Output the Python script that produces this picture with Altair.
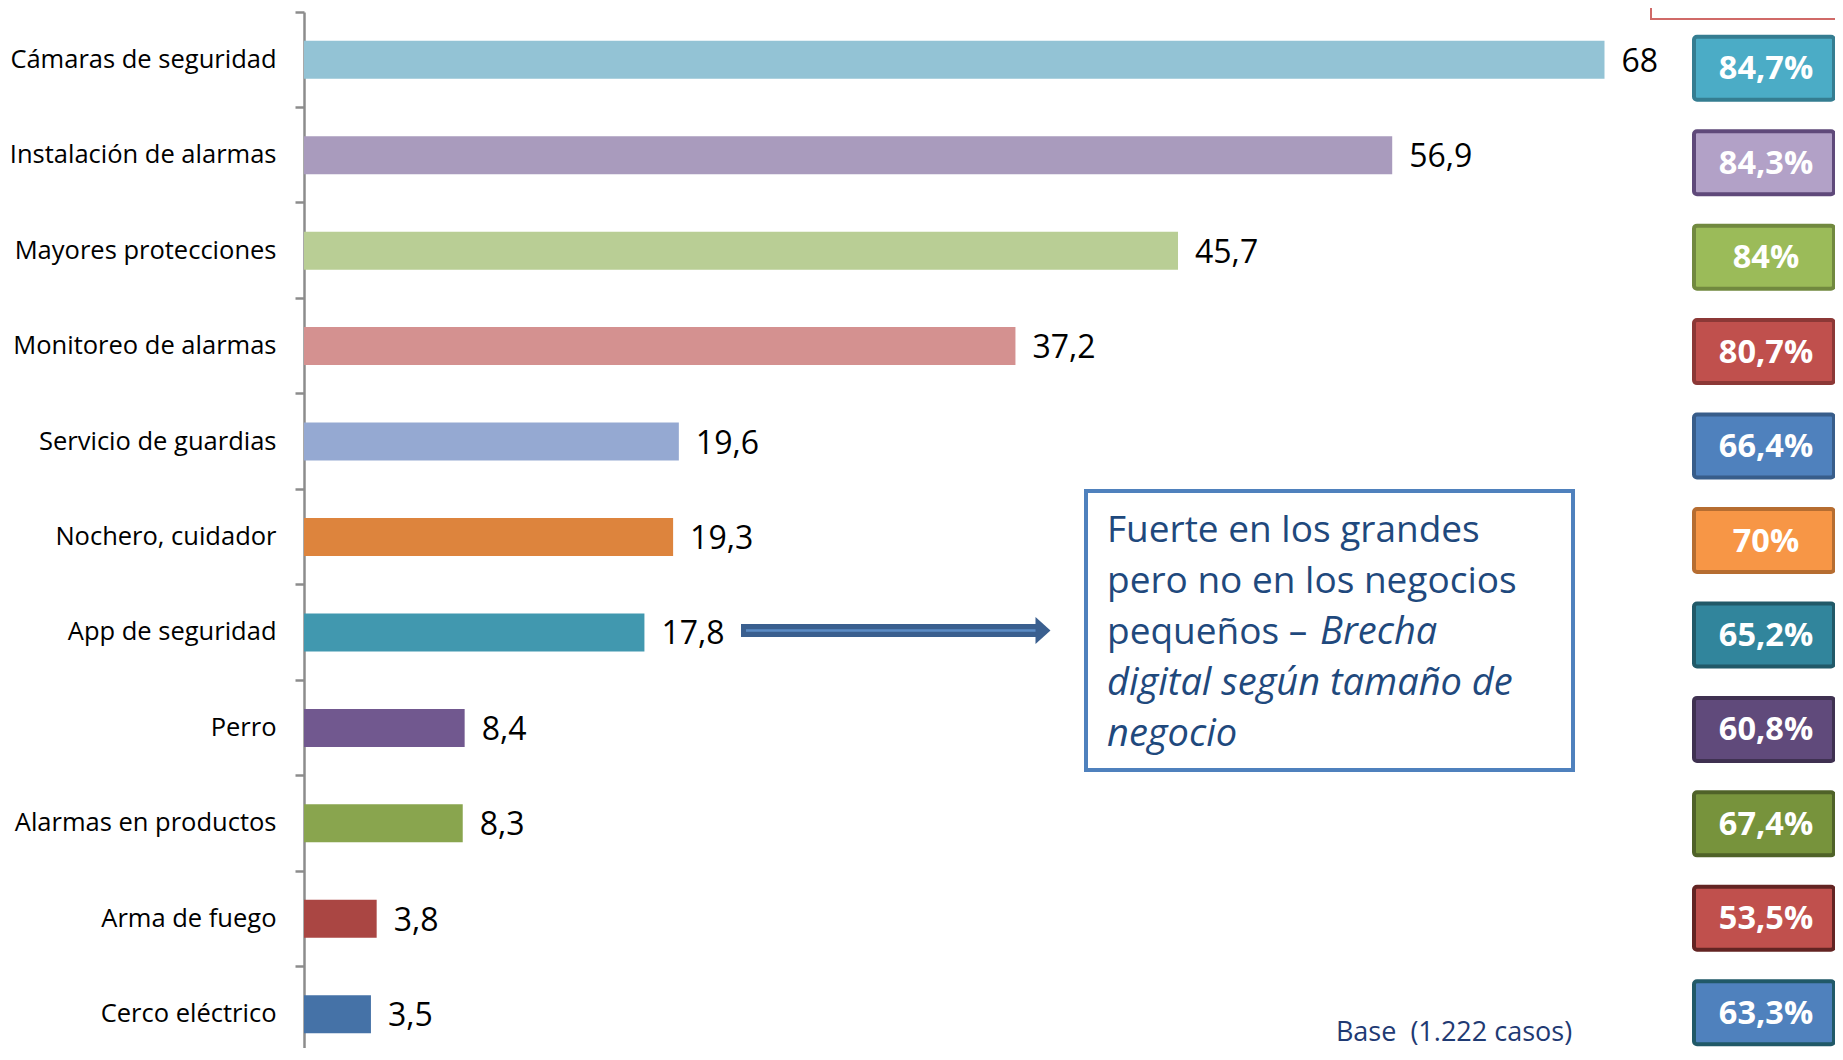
import altair as alt
import pandas as pd

categories = [
    "Cámaras de seguridad", "Instalación de alarmas", "Mayores protecciones",
    "Monitoreo de alarmas", "Servicio de guardias", "Nochero, cuidador",
    "App de seguridad", "Perro", "Alarmas en productos", "Arma de fuego",
    "Cerco eléctrico",
]
values = [68, 56.9, 45.7, 37.2, 19.6, 19.3, 17.8, 8.4, 8.3, 3.8, 3.5]
pct_labels = ["84,7%", "84,3%", "84%", "80,7%", "66,4%", "70%", "65,2%",
              "60,8%", "67,4%", "53,5%", "63,3%"]

bar_colors = ["#93C3D5", "#A99BBD", "#B9CE95", "#D49190", "#95A9D2", "#DD843D",
              "#4198AF", "#71588F", "#89A54E", "#AA4643", "#4572A7"]
box_fill = ["#4BACC6", "#B2A1C7", "#9BBB59", "#C0504D", "#4F81BD", "#F79646",
            "#31859C", "#604A7B", "#77933C", "#C0504D", "#4F81BD"]
box_stroke = ["#357D91", "#5F497A", "#71893F", "#8C3836", "#385D8A", "#B66D31",
              "#215968", "#3F3151", "#4F6228", "#632423", "#215968"]

df = pd.DataFrame({
    "cat": categories,
    "val": values,
    "lab": [f"{v:g}".replace(".", ",") for v in values],
    "pct": pct_labels,
})

FONT = "Open Sans"
W = 1530
H = 1036

y_enc = alt.Y("cat:N", sort=categories,
              scale=alt.Scale(paddingInner=0, paddingOuter=0, range=[0, 1050]),
              axis=alt.Axis(title=None, bandPosition=0, domainColor="#8C8C8C",
                            domainWidth=2.5, tickColor="#8C8C8C", tickWidth=2.5,
                            tickSize=9, labelPadding=19, labelFont=FONT,
                            labelFontSize=25.5, labelColor="#000000",
                            labelLimit=400, grid=False))
y_box = alt.Y("cat:N", sort=categories,
              scale=alt.Scale(paddingInner=0, paddingOuter=0, range=[9, 1048]),
              axis=None)
x_enc = alt.X("val:Q", scale=alt.Scale(domain=[0, 80], nice=False), axis=None)

base = alt.Chart(df)

bars = base.mark_bar(size=38).encode(
    x=x_enc, y=y_enc,
    color=alt.Color("cat:N", scale=alt.Scale(domain=categories, range=bar_colors),
                    legend=None),
)

vlabels = base.mark_text(align="left", baseline="middle", dx=17, dy=2,
                         font=FONT, fontSize=32, color="#000000").encode(
    x=alt.X("val:Q"), y=alt.Y("cat:N", sort=categories), text="lab:N")

boxes = base.mark_bar(size=63, strokeWidth=4, cornerRadius=3).encode(
    x=alt.value(1390), x2=alt.value(1530),
    y=y_box,
    fill=alt.Fill("cat:N", scale=alt.Scale(domain=categories, range=box_fill),
                  legend=None),
    stroke=alt.Stroke("cat:N", scale=alt.Scale(domain=categories, range=box_stroke),
                      legend=None),
)

blabels = base.mark_text(align="center", baseline="middle", dy=1, font=FONT,
                         fontSize=32.5, fontWeight="bold", color="#FFFFFF").encode(
    x=alt.value(1462), y=alt.Y("cat:N", sort=categories), text="pct:N")

one = alt.Data(values=[{"a": 1}])

ann_box = alt.Chart(one).mark_rect(fill="#FFFFFF", stroke="#4F81BD",
                                   strokeWidth=4).encode(
    x=alt.value(782), x2=alt.value(1269), y=alt.value(479), y2=alt.value(758))

ann_color = "#1F497D"
ann_lines = []
for txt, yy in [("Fuerte en los grandes", 530), ("pero no en los negocios", 581),
                ("pequeños –", 632)]:
    ann_lines.append(alt.Chart(one).mark_text(
        align="left", baseline="alphabetic", font=FONT, fontSize=37,
        color=ann_color).encode(x=alt.value(803), y=alt.value(yy),
                                text=alt.value(txt)))
ann_lines.append(alt.Chart(one).mark_text(
    align="left", baseline="alphabetic", font=FONT, fontSize=38,
    fontStyle="italic", color=ann_color).encode(
    x=alt.value(1016), y=alt.value(632), text=alt.value("Brecha")))
for txt, yy in [("digital según tamaño de", 683), ("negocio", 734)]:
    ann_lines.append(alt.Chart(one).mark_text(
        align="left", baseline="alphabetic", font=FONT, fontSize=38,
        fontStyle="italic", color=ann_color).encode(
        x=alt.value(803), y=alt.value(yy), text=alt.value(txt)))

shaft = alt.Chart(one).mark_rule(strokeWidth=13, color="#3A5F8F",
                                 strokeCap="butt").encode(
    x=alt.value(437), x2=alt.value(733), y=alt.value(618.5))
shaft_hi = alt.Chart(one).mark_rule(strokeWidth=2.5, color="#5C8CC6",
                                    strokeCap="butt").encode(
    x=alt.value(442), x2=alt.value(735), y=alt.value(618.5))
head = alt.Chart(one).mark_point(
    shape="M -0.55 -1 L 0.55 0 L -0.55 1 Z", filled=True, size=740,
    color="#3A5F8F", opacity=1).encode(x=alt.value(739), y=alt.value(618.5))

base_txt = alt.Chart(one).mark_text(
    align="center", baseline="alphabetic", font=FONT, fontSize=27,
    color="#1F3A73").encode(x=alt.value(1150), y=alt.value(1029),
                            text=alt.value("Base\u00a0\u00a0(1.222 casos)"))

red_box = alt.Chart(one).mark_rect(fill="#FFFFFF", stroke="#D06A68",
                                   strokeWidth=2).encode(
    x=alt.value(1347), x2=alt.value(1560), y=alt.value(-30), y2=alt.value(7))

left_part = alt.layer(bars, vlabels)
right_part = alt.layer(boxes, blabels)
notes = alt.layer(red_box, ann_box, *ann_lines, shaft, shaft_hi, head, base_txt)

chart = alt.layer(left_part, right_part, notes).resolve_scale(
    y="independent", x="independent"
).resolve_axis(y="independent").properties(
    width=W, height=H,
    autosize=alt.AutoSizeParams(type="none"),
    padding={"left": 296, "top": 4, "right": 1, "bottom": 0},
    background="#FFFFFF",
).configure_view(stroke=None)

chart.save("out.html", embed_options={"renderer": "svg", "actions": False})
